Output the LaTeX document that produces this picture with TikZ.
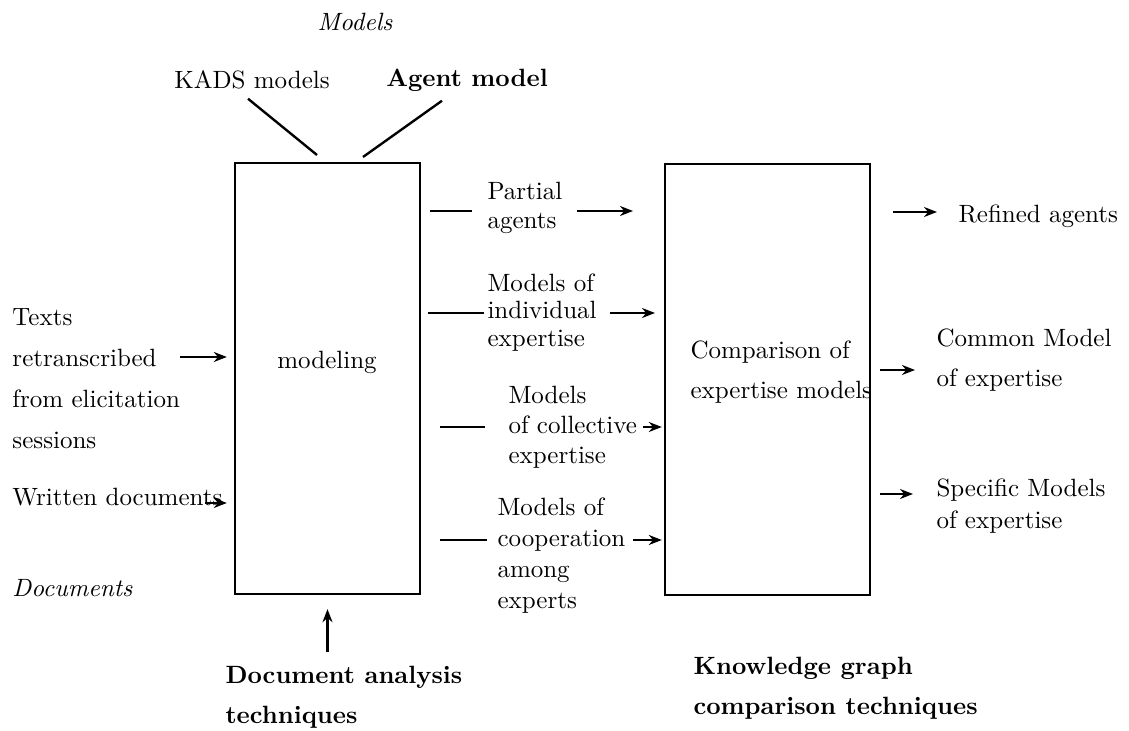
\documentclass[tikz,border=0pt]{standalone}
\usetikzlibrary{arrows.meta,calc}
\begin{document}
\tikzset{
  txt/.style={font=\fontsize{10}{#1}\selectfont, inner sep=0pt, align=left, anchor=west},
  txt/.default=11.8pt,
  bx/.style={draw, line width=0.95pt, inner sep=0pt},
  ln/.style={line width=0.95pt},
  arr/.style={line width=0.95pt, -{Stealth[length=5.2pt,width=4pt]}},
}
\begin{tikzpicture}[x=0.4pt,y=-0.4pt]
\useasboundingbox (0,0) rectangle (1129,731);
% boxes
\node[bx, minimum width=74pt, minimum height=172.4pt] (modbox) at (327.5,378.5) {};
\node[bx, minimum width=82pt, minimum height=172.4pt] (cmpbox) at (767.5,379.5) {};
\node[txt, anchor=center] (modlabel) at (327,362) {modeling};
\node[txt=16pt] (cmplabel) at (690,372) {Comparison of\\expertise models};
% top
\node[txt, anchor=center] (models) at (355,22) {\itshape Models};
\node[txt, anchor=center] (kads) at (252,80) {KADS models};
\node[txt, anchor=center] (agent) at (467,80) {\bfseries Agent model};
\coordinate (kadsend) at (317,155);
\coordinate (agentend) at (363,157);
\draw[ln] ($(kads.south)+(-4,9)$) -- (kadsend);
\draw[ln] ($(agent.south)+(-25,9)$) -- (agentend);
% left
\node[txt=16.4pt] (texts) at (12,378.5) {Texts\\retranscribed\\from elicitation\\sessions};
\node[txt] (written) at (12,497) {Written documents};
\node[txt] (docs) at (12,588) {\itshape Documents};
\coordinate (tx1) at (180,357);
\coordinate (wd1) at (205,503);
\draw[arr] (tx1) -- ([xshift=-2.8pt]modbox.west |- tx1);
\draw[arr] (wd1) -- ([xshift=-2.8pt]modbox.west |- wd1);
% bottom
\node[txt=16pt] (docan) at (225,697) {\bfseries Document analysis\\\bfseries techniques};
\node[txt=16pt] (kgc) at (693,688) {\bfseries Knowledge graph\\\bfseries comparison techniques};
\coordinate (da1) at (327.5,652);
\draw[arr] (da1) -- ([yshift=-5.6pt]modbox.south);
% middle
\node[txt=11.6pt] (partial) at (487,207.5) {Partial\\agents};
\node[txt=11pt] (indiv) at (487,312.5) {Models of\\individual\\expertise};
\node[txt=12pt] (coll) at (508,427) {Models\\of collective\\expertise};
\node[txt=12.4pt] (coop) at (497,556) {Models of\\cooperation\\among\\experts};
\coordinate (pa1) at (430,211); \coordinate (pa2) at (472,211);
\coordinate (pa3) at (577,211); \coordinate (pa4) at (633,211);
\coordinate (in1) at (428,313); \coordinate (in2) at (484,313);
\coordinate (in3) at (610,313); \coordinate (in4) at (655,313);
\coordinate (co1) at (440,427); \coordinate (co2) at (485,427);
\coordinate (co3) at (643,427);
\coordinate (cp1) at (440,540); \coordinate (cp2) at (487,540);
\coordinate (cp3) at (633,540);
\draw[ln] (pa1) -- (pa2);
\draw[arr] (pa3) -- (pa4);
\draw[ln] (in1) -- (in2);
\draw[arr] (in3) -- (in4);
\draw[ln] (co1) -- (co2);
\draw[arr] (co3) -- ([xshift=-0.8pt]cmpbox.west |- co3);
\draw[ln] (cp1) -- (cp2);
\draw[arr] (cp3) -- ([xshift=-0.8pt]cmpbox.west |- cp3);
% right
\node[txt] (refined) at (958,216) {Refined agents};
\node[txt=16pt] (common) at (936,360) {Common Model\\of expertise};
\node[txt=12.8pt] (specific) at (936,506) {Specific Models\\of expertise};
\coordinate (ra1) at (893,212); \coordinate (ra2) at (937,212);
\coordinate (cm1) at (880,370); \coordinate (cm2) at (915,370);
\coordinate (sp1) at (880,494); \coordinate (sp2) at (913,494);
\draw[arr] (ra1) -- (ra2);
\draw[arr] (cm1) -- (cm2);
\draw[arr] (sp1) -- (sp2);
\end{tikzpicture}
\end{document}
